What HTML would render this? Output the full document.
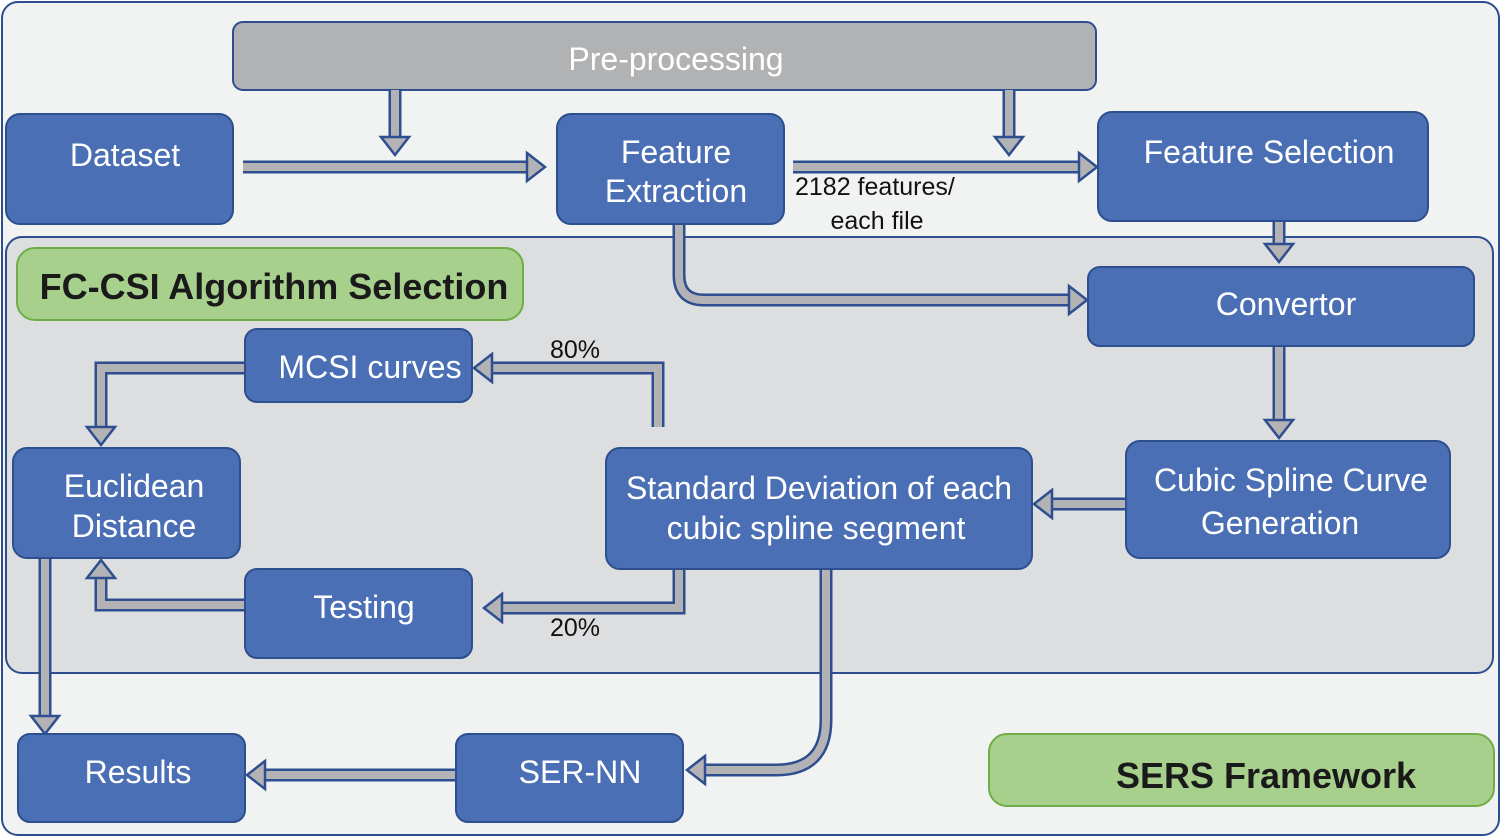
<!DOCTYPE html>
<html><head><meta charset="utf-8"><style>
body{margin:0;background:#fff}
svg{display:block}
text{font-family:"Liberation Sans",sans-serif}
</style></head><body>
<svg width="1502" height="838" viewBox="0 0 1502 838">
<rect x="2" y="2" width="1497" height="833" rx="16" fill="#f1f2f2" stroke="#2e4e8f" stroke-width="2"/>
<rect x="6" y="237" width="1487" height="436" rx="16" fill="#dddee0" stroke="#2e4e8f" stroke-width="2"/>
<rect x="233" y="22" width="863" height="68" rx="10" fill="#b1b2b4" stroke="#2e4e8f" stroke-width="2"/>
<text x="676" y="70" font-size="32" fill="#fff" text-anchor="middle">Pre-processing</text>

<g fill="none" stroke-linejoin="miter">
<g stroke="#2e4e8f" stroke-width="13">
<path d="M395 90V139M243 167H531M1009 90V139M793 167H1083M1279 221V246M679 224V275Q679 300 704 300H1073M1279 346V422M1126 504H1048M658 427V368H488M245 368H101V429M679 569V608H498M245 605H101V576M45 558V718M826 569V720Q826 770 776 770H701M456 775H263"/>
</g>
<g stroke="#b3b3b5" stroke-width="8">
<path d="M395 90V141M243 167H533M1009 90V141M793 167H1085M1279 221V248M679 224V275Q679 300 704 300H1075M1279 346V424M1126 504H1046M658 427V368H486M245 368H101V431M679 569V608H496M245 605H101V574M45 558V720M826 569V720Q826 770 776 770H699M456 775H261"/>
</g>
</g>
<g fill="#b3b3b5" stroke="#2e4e8f" stroke-width="2.5" stroke-linejoin="miter">
<polygon points="381,137 395,155 409,137"/>
<polygon points="527,153 545,167 527,181"/>
<polygon points="995,137 1009,155 1023,137"/>
<polygon points="1079,153 1097,167 1079,181"/>
<polygon points="1265,244 1279,262 1293,244"/>
<polygon points="1069,286 1087,300 1069,314"/>
<polygon points="1265,420 1279,438 1293,420"/>
<polygon points="1052,490 1034,504 1052,518"/>
<polygon points="492,354 474,368 492,382"/>
<polygon points="87,427 101,445 115,427"/>
<polygon points="502,594 484,608 502,622"/>
<polygon points="87,578 101,560 115,578"/>
<polygon points="31,716 45,734 59,716"/>
<polygon points="705,756 687,770 705,784"/>
<polygon points="265,761 247,775 265,789"/>
</g>

<g fill="#4a6fb5" stroke="#2d4f8e" stroke-width="2">
<rect x="6" y="114" width="227" height="110" rx="14"/>
<rect x="557" y="114" width="227" height="110" rx="14"/>
<rect x="1098" y="112" width="330" height="109" rx="14"/>
<rect x="1088" y="267" width="386" height="79" rx="12"/>
<rect x="245" y="329" width="227" height="73" rx="12"/>
<rect x="13" y="448" width="227" height="110" rx="14"/>
<rect x="606" y="448" width="426" height="121" rx="14"/>
<rect x="1126" y="441" width="324" height="117" rx="14"/>
<rect x="245" y="569" width="227" height="89" rx="12"/>
<rect x="18" y="734" width="227" height="88" rx="12"/>
<rect x="456" y="734" width="227" height="88" rx="12"/>
</g>
<g fill="#a8d08d" stroke="#70ad47" stroke-width="2">
<rect x="17" y="248" width="506" height="72" rx="18"/>
<rect x="989" y="734" width="505" height="72" rx="18"/>
</g>
<g font-size="32" fill="#fff" text-anchor="middle">
<text x="125" y="166">Dataset</text>
<text x="676" y="163">Feature</text>
<text x="676" y="202">Extraction</text>
<text x="1269" y="163">Feature Selection</text>
<text x="1286" y="315">Convertor</text>
<text x="370" y="378">MCSI curves</text>
<text x="134" y="497">Euclidean</text>
<text x="134" y="537">Distance</text>
<text x="819" y="499">Standard Deviation of each</text>
<text x="816" y="539">cubic spline segment</text>
<text x="1291" y="491">Cubic Spline Curve</text>
<text x="1280" y="534">Generation</text>
<text x="364" y="618">Testing</text>
<text x="138" y="783">Results</text>
<text x="580" y="783">SER-NN</text>
</g>
<g font-size="36" font-weight="bold" fill="#1a1a1a" text-anchor="middle">
<text x="274" y="299">FC-CSI Algorithm Selection</text>
<text x="1266" y="788">SERS Framework</text>
</g>
<g font-size="25" fill="#111">
<text x="795" y="195">2182 features/</text>
<text x="877" y="229" text-anchor="middle">each file</text>
<text x="575" y="358" text-anchor="middle">80%</text>
<text x="575" y="636" text-anchor="middle">20%</text>
</g>
</svg>
</body></html>
